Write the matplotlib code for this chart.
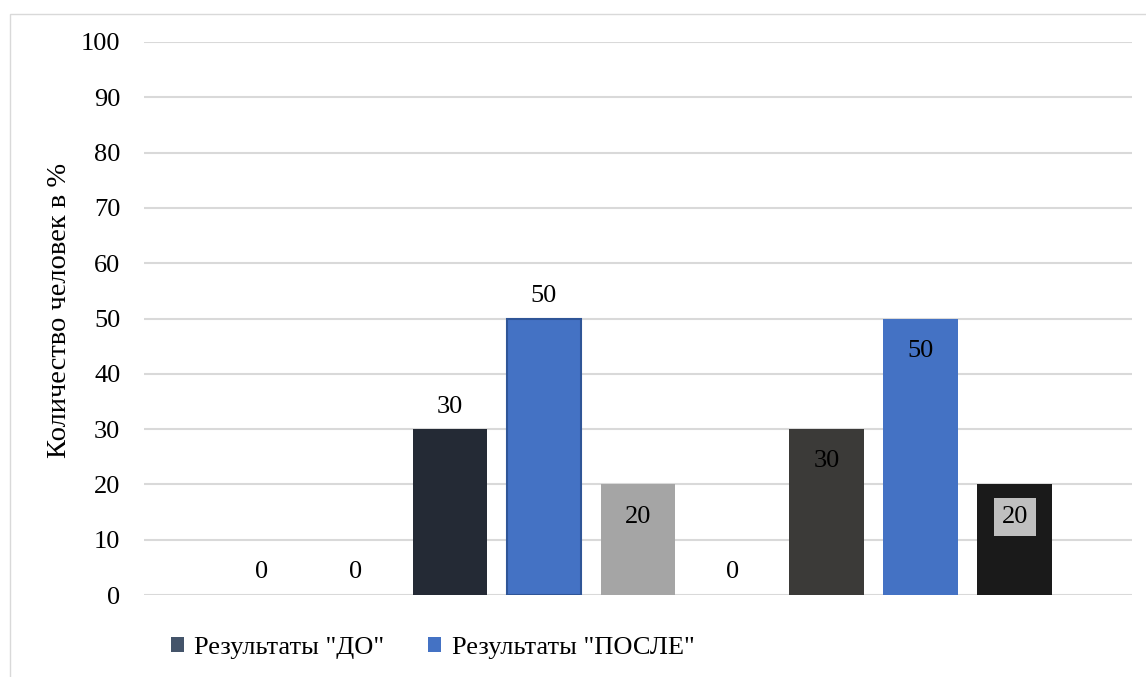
import matplotlib
matplotlib.use("Agg")
import matplotlib.pyplot as plt
from matplotlib.patches import Rectangle, Patch

plt.rcParams['font.family'] = ['Liberation Serif', 'DejaVu Serif']

# data
values = [0, 0, 30, 50, 20, 0, 30, 50, 20]
bar_colors = ['#242A35', '#242A35', '#242A35', '#4472C4', '#A5A5A5',
              '#A5A5A5', '#3B3A38', '#4472C4', '#1A1A1A']
edge_colors = [None, None, None, '#2F5597', None, None, None, None, None]
label_inside = [False, False, False, False, True, False, True, True, True]
yticks = list(range(0, 101, 10))
ylabel = 'Количество человек в %'
legend_labels = ['Результаты "ДО"', 'Результаты "ПОСЛЕ"']
legend_colors = ['#44546A', '#4472C4']

W, H = 1146, 677
fig = plt.figure(figsize=(W / 100, H / 100), dpi=100)
ax = fig.add_axes([144 / W, 1 - 595 / H, (1132 - 144) / W, (595 - 42) / H])

FS = 19
for i, v in enumerate(values):
    ec = edge_colors[i]
    ax.bar(i, v, width=0.79, color=bar_colors[i],
           edgecolor=ec if ec else 'none', linewidth=1.5 if ec else 0, zorder=3)
    if label_inside[i]:
        bbox = None
        if i == 8:
            bbox = dict(boxstyle='square,pad=0.3', facecolor='#BFBFBF', edgecolor='none')
        ax.annotate(str(v), (i, v), xytext=(0, -21.5), textcoords='offset points',
                    ha='center', va='center_baseline', fontsize=FS, color='black', bbox=bbox, zorder=5)
    else:
        ax.annotate(str(v), (i, v), xytext=(0, 18), textcoords='offset points',
                    ha='center', va='center_baseline', fontsize=FS, color='black', zorder=5)

ax.set_xlim(-1.248, 9.247)
ax.set_ylim(0, 100)
ax.set_yticks(yticks)
ax.set_xticks([])
ax.yaxis.grid(True, color='#D9D9D9', linewidth=1.5, zorder=0)
ax.set_axisbelow(True)
for s in ax.spines.values():
    s.set_visible(False)
ax.tick_params(axis='y', length=0, labelsize=FS, pad=17)

fig.text(60 / W, 1 - 310 / H, ylabel, rotation=90, ha='center', va='center', fontsize=20.5)

handles = [Patch(facecolor=c, edgecolor='none') for c in legend_colors]
fig.legend(handles, legend_labels, loc='center left', bbox_to_anchor=(147 / W, 1 - 648 / H),
           ncol=2, frameon=False, fontsize=FS, handlelength=0.5, handleheight=0.5,
           handletextpad=0.4, columnspacing=1.65)

fig.patches.append(Rectangle((10 / W, -0.05), 1.1, 1 - 14 / H + 0.05, transform=fig.transFigure,
                             fill=False, edgecolor='#D9D9D9', linewidth=1))

fig.savefig('out.png', dpi=100)
